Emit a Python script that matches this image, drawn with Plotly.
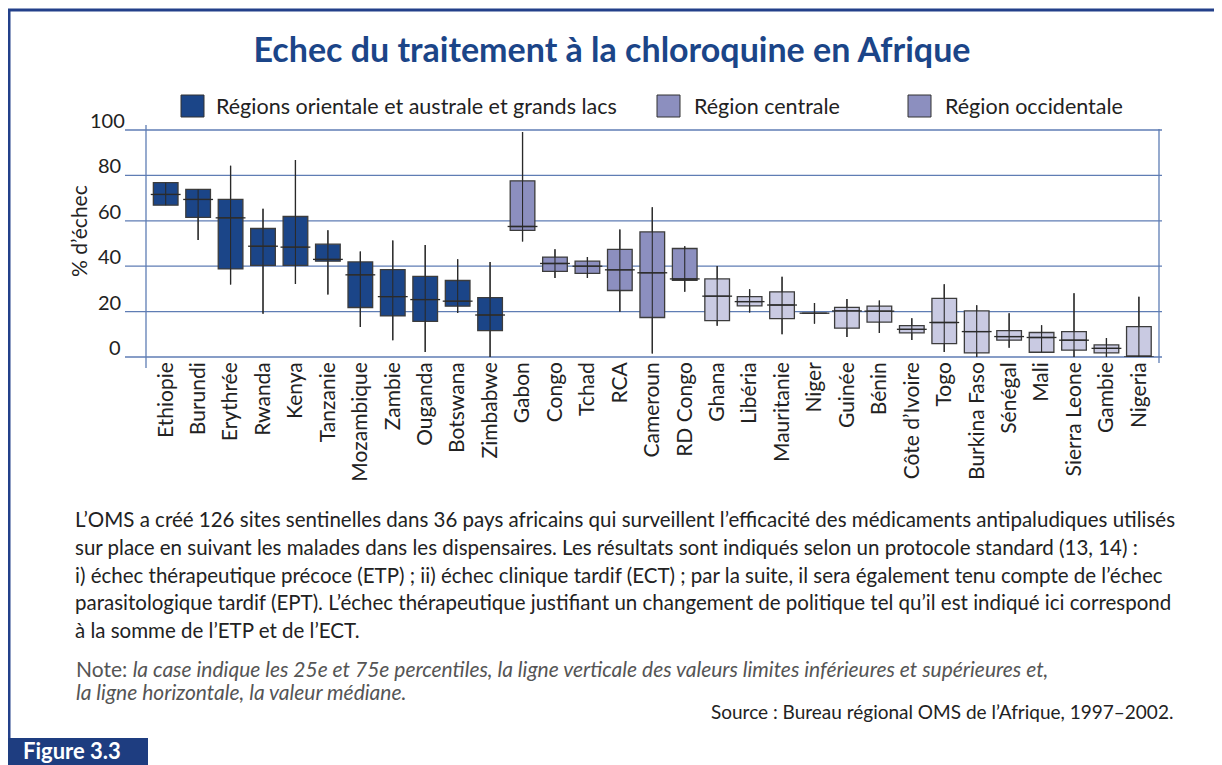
import plotly.graph_objects as go

# data (% échec)
countries = ["Ethiopie", "Burundi", "Erythrée", "Rwanda", "Kenya", "Tanzanie", "Mozambique",
             "Zambie", "Ouganda", "Botswana", "Zimbabwe",
             "Gabon", "Congo", "Tchad", "RCA", "Cameroun", "RD Congo",
             "Ghana", "Libéria", "Mauritanie", "Niger", "Guinée", "Bénin", "Côte d’Ivoire",
             "Togo", "Burkina Faso", "Sénégal", "Mali", "Sierra Leone", "Gambie", "Nigeria"]
regions = ["est"] * 11 + ["centre"] * 6 + ["ouest"] * 14
low = [66.9, 51.5, 31.9, 19.1, 32.2, 27.5, 13.2, 7.4, 2.2, 19.4, 0.0,
       50.9, 34.8, 34.8, 19.9, 1.5, 28.7,
       13.8, 19.6, 10.0, 14.7, 8.8, 10.6, 7.5, 2.2, 0.0, 4.1, 2.1, 0.0, 0.0, 0.0]
p25 = [66.9, 61.5, 38.8, 40.4, 40.4, 42.2, 21.8, 18.1, 15.7, 22.4, 11.6,
       55.8, 37.7, 36.8, 29.3, 17.4, 33.8,
       16.0, 22.5, 16.9, 19.3, 12.7, 15.4, 10.6, 5.9, 1.8, 7.4, 2.1, 3.0, 1.8, 0.0]
median = [71.6, 69.4, 61.3, 48.8, 48.4, 43.0, 36.2, 26.6, 25.3, 24.6, 18.5,
          57.5, 41.2, 40.0, 38.4, 37.1, 34.4,
          26.8, 24.4, 22.9, 19.3, 20.3, 20.2, 12.2, 15.2, 11.2, 9.0, 8.6, 7.4, 3.8, 0.0]
p75 = [76.8, 73.8, 69.4, 56.6, 61.9, 49.7, 41.9, 38.5, 35.5, 33.7, 26.2,
       77.6, 44.0, 42.2, 47.4, 55.1, 47.8,
       34.4, 26.6, 28.7, 19.3, 21.9, 22.4, 13.8, 25.8, 20.3, 11.6, 10.8, 11.2, 5.3, 13.4]
high = [76.8, 73.8, 84.3, 65.3, 86.8, 55.8, 46.5, 51.3, 49.3, 43.1, 41.8,
        99.1, 47.5, 44.1, 56.2, 66.0, 48.8,
        40.1, 29.9, 35.3, 23.8, 25.6, 24.9, 17.1, 32.1, 22.8, 19.3, 14.0, 28.1, 8.4, 26.5]

region_keys = ["est", "centre", "ouest"]
region_fill = {"est": "#1b4588", "centre": "#8c8fbf", "ouest": "#c9cae2"}
legend_labels = ["Régions orientale et australe et grands lacs", "Région centrale", "Région occidentale"]
legend_colors = ["#1b4588", "#8c8fbf", "#8c8fbf"]
y_ticks = [0, 20, 40, 60, 80, 100]

FONT = "Lato, 'Open Sans', sans-serif"
NAVY = "#1b4588"
# the page puts the figure 8px in from the top-left corner of the window
OFF = 8
W, H = 1222 - OFF, 765 - OFF
# plot area in window pixels
L, R, T, B = 146, 1159, 130, 357


def px(x, y):
    return (x - L) / (R - L), (B - y) / (B - T)


fig = go.Figure()
xs = list(range(len(countries)))

for key in region_keys:
    idx = [i for i, r in enumerate(regions) if r == key]
    fig.add_trace(go.Box(
        x=idx,
        q1=[p25[i] for i in idx], median=[median[i] for i in idx], q3=[p75[i] for i in idx],
        lowerfence=[low[i] for i in idx], upperfence=[high[i] for i in idx],
        fillcolor=region_fill[key], line=dict(color="#3c3c3c", width=1.3),
        whiskerwidth=0, width=0.76, boxpoints=False, showlegend=False, hoverinfo="skip",
    ))

# whiskers through the box, and median ticks wider than the box
wx, wy, mx, my = [], [], [], []
for i in xs:
    wx += [i, i, None]
    wy += [low[i], high[i], None]
    mx += [i - 0.46, i + 0.46, None]
    my += [median[i], median[i], None]
fig.add_trace(go.Scatter(x=wx, y=wy, mode="lines", line=dict(color="#2a2a2a", width=1.1),
                         showlegend=False, hoverinfo="skip", cliponaxis=False))
fig.add_trace(go.Scatter(x=mx, y=my, mode="lines", line=dict(color="#2a2a2a", width=1.3),
                         showlegend=False, hoverinfo="skip", cliponaxis=False))

shapes = []
annotations = []
grid_col = "#5f7db4"
for v in y_ticks:
    x0, _ = px(125, 0)
    x1, _ = px(1162, 0)
    shapes.append(dict(type="line", xref="paper", yref="paper", x0=x0, x1=x1,
                       y0=v / 100, y1=v / 100, line=dict(color=grid_col, width=1.3), layer="below"))
    xl, _ = px(127 if v == 100 else 123, 0)
    annotations.append(dict(xref="paper", yref="paper", x=xl, y=v / 100, xanchor="right",
                            yanchor="bottom", yshift=-4, showarrow=False, text=str(v),
                            font=dict(family=FONT, size=20, color="#222")))


def line_px(x0, y0, x1, y1, color, width):
    a, b = px(x0, y0)
    c, d = px(x1, y1)
    shapes.append(dict(type="line", xref="paper", yref="paper", x0=a, y0=b, x1=c, y1=d,
                       line=dict(color=color, width=width)))


# frame lines of the plot area
line_px(L, 368, L, 125, grid_col, 1.3)
line_px(R, 363, R, 129, grid_col, 1.3)

# page border
line_px(8, 10, 1222, 10, "#23408a", 3)
line_px(9, 10, 9, 740, "#23408a", 3)
line_px(1220, 10, 1220, 765, "#8a8fc0", 1.5)

# figure label
a, b = px(8, 738)
c, d = px(148, 766)
shapes.append(dict(type="rect", xref="paper", yref="paper", x0=a, y0=b, x1=c, y1=d,
                   fillcolor="#1e3d80", line=dict(width=0)))
lx, ly = px(22, 750)
annotations.append(dict(xref="paper", yref="paper", x=lx, y=ly, xanchor="left", yanchor="middle",
                        showarrow=False, text="<b>Figure 3.3</b>", borderpad=0,
                        font=dict(family=FONT, size=22, color="white")))

# legend drawn by hand
legend_x = [(181, 214), (657, 692), (908, 943)]
for (sx, tx), lab, col in zip(legend_x, legend_labels, legend_colors):
    a, b = px(sx, 117)
    c, d = px(sx + 23, 95)
    shapes.append(dict(type="rect", xref="paper", yref="paper", x0=a, y0=b, x1=c, y1=d,
                       fillcolor=col, line=dict(color="#333", width=1)))
    ax_, ay_ = px(tx, 106)
    annotations.append(dict(xref="paper", yref="paper", x=ax_, y=ay_, xanchor="left",
                            yanchor="middle", showarrow=False, text=lab,
                            font=dict(family=FONT, size=21.5, color="#222")))

# y axis title
tx_, ty_ = px(78, 231)
annotations.append(dict(xref="paper", yref="paper", x=tx_, y=ty_, xanchor="center", yanchor="middle",
                        textangle=-90, showarrow=False,
                        text="% d’échec", font=dict(family=FONT, size=21, color="#222")))

body = [
    "L’OMS a créé 126 sites sentinelles dans 36 pays africains qui surveillent l’efficacité des médicaments antipaludiques utilisés",
    "sur place en suivant les malades dans les dispensaires. Les résultats sont indiqués selon un protocole standard (13, 14) :",
    "i) échec thérapeutique précoce (ETP) ; ii) échec clinique tardif (ECT) ; par la suite, il sera également tenu compte de l’échec",
    "parasitologique tardif (EPT). L’échec thérapeutique justifiant un changement de politique tel qu’il est indiqué ici correspond",
    "à la somme de l’ETP et de l’ECT.",
]
for k, line in enumerate(body):
    bx, by = px(73, 519 + 27.8 * k)
    annotations.append(dict(xref="paper", yref="paper", x=bx, y=by, xanchor="left", yanchor="middle",
                            showarrow=False, text=line, font=dict(family=FONT, size=20.5, color="#222")))

note = [
    "Note: <i>la case indique les 25e et 75e percentiles, la ligne verticale des valeurs limites inférieures et supérieures et,</i>",
    "<i>la ligne horizontale, la valeur médiane.</i>",
]
for k, line in enumerate(note):
    bx, by = px(74, 668 + 23 * k)
    annotations.append(dict(xref="paper", yref="paper", x=bx, y=by, xanchor="left", yanchor="middle",
                            showarrow=False, text=line, font=dict(family=FONT, size=21, color="#555")))

sx_, sy_ = px(1175, 711)
annotations.append(dict(xref="paper", yref="paper", x=sx_, y=sy_, xanchor="right", yanchor="middle",
                        showarrow=False, text="Source : Bureau régional OMS de l’Afrique, 1997–2002.",
                        font=dict(family=FONT, size=19, color="#222")))

fig.update_layout(
    width=W, height=H,
    margin=dict(l=L - OFF, r=1222 - R, t=T - OFF, b=765 - B, pad=0),
    paper_bgcolor="white", plot_bgcolor="white",
    title=dict(text="<b>Echec du traitement à la chloroquine en Afrique</b>",
               x=(612 - OFF) / W, xanchor="center",
               y=1 - (50 - OFF) / H, yanchor="middle", font=dict(family=FONT, size=34, color=NAVY)),
    xaxis=dict(range=[-0.607, 30.62], tickmode="array", tickvals=xs, ticktext=countries,
               tickangle=-90, showgrid=False, zeroline=False, showline=False, ticks="",
               tickfont=dict(family=FONT, size=21, color="#222")),
    yaxis=dict(range=[0, 100], showgrid=False, zeroline=False, showline=False,
               showticklabels=False, ticks=""),
    shapes=shapes, annotations=annotations, showlegend=False,
)

fig.write_html("out.html")
